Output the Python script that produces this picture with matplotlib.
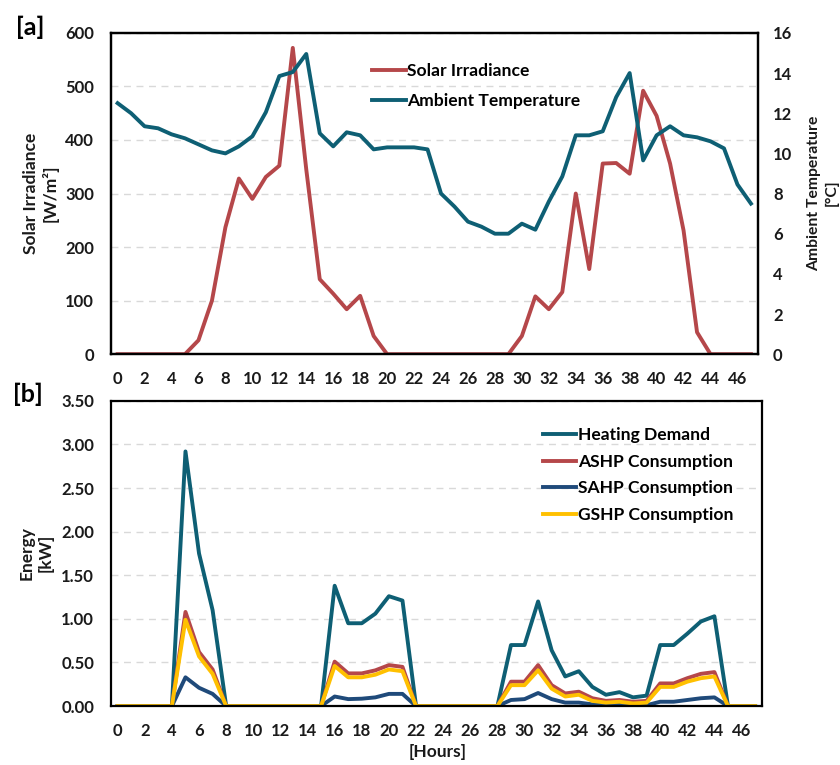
import numpy as np
import matplotlib
matplotlib.use("Agg")
import matplotlib.pyplot as plt

plt.rcParams['font.family'] = ['Lato', 'DejaVu Sans']
plt.rcParams['font.weight'] = 'bold'

hours = list(range(48))
x_ticks = list(range(0, 47, 2))

# panel [a]
solar = [0, 0, 0, 0, 0, 0, 26, 100, 237, 328, 290, 331, 352, 572, 345, 140,
         113, 84, 109, 34, 0, 0, 0, 0, 0, 0, 0, 0, 0, 0, 34, 108,
         84, 116, 300, 159, 356, 357, 337, 492, 445, 356, 231, 41, 0, 0, 0, 0]
temp = [12.5, 12.0, 11.35, 11.25, 10.95, 10.75, 10.45, 10.15, 10.0, 10.35, 10.85, 12.05,
        13.85, 14.05, 14.95, 11.0, 10.35, 11.05, 10.9, 10.2, 10.3, 10.3, 10.3, 10.2,
        8.0, 7.35, 6.6, 6.35, 6.0, 6.0, 6.5, 6.2, 7.6, 8.85, 10.9, 10.9,
        11.1, 12.8, 14.0, 9.65, 10.9, 11.35, 10.9, 10.8, 10.6, 10.25, 8.45, 7.5]

# panel [b]
heating = [0, 0, 0, 0, 0, 2.92, 1.75, 1.10, 0, 0, 0, 0, 0, 0, 0, 0,
           1.38, 0.95, 0.95, 1.06, 1.26, 1.21, 0, 0, 0, 0, 0, 0, 0, 0.70, 0.70, 1.20,
           0.64, 0.34, 0.40, 0.22, 0.13, 0.16, 0.10, 0.12, 0.70, 0.70, 0.83, 0.97, 1.03, 0, 0, 0]
ashp = [0, 0, 0, 0, 0, 1.08, 0.62, 0.42, 0, 0, 0, 0, 0, 0, 0, 0,
        0.51, 0.375, 0.375, 0.41, 0.47, 0.45, 0, 0, 0, 0, 0, 0, 0, 0.28, 0.28, 0.47,
        0.24, 0.145, 0.165, 0.09, 0.06, 0.07, 0.05, 0.06, 0.26, 0.26, 0.32, 0.37, 0.39, 0, 0, 0]
sahp = [0, 0, 0, 0, 0, 0.33, 0.21, 0.14, 0, 0, 0, 0, 0, 0, 0, 0,
        0.11, 0.08, 0.085, 0.10, 0.14, 0.14, 0, 0, 0, 0, 0, 0, 0, 0.07, 0.08, 0.15,
        0.08, 0.04, 0.04, 0.02, 0.01, 0.02, 0.01, 0.01, 0.05, 0.05, 0.07, 0.09, 0.10, 0, 0, 0]
gshp = [0, 0, 0, 0, 0, 0.99, 0.57, 0.37, 0, 0, 0, 0, 0, 0, 0, 0,
        0.46, 0.33, 0.33, 0.36, 0.42, 0.40, 0, 0, 0, 0, 0, 0, 0, 0.24, 0.24, 0.41,
        0.20, 0.11, 0.13, 0.06, 0.04, 0.05, 0.03, 0.04, 0.22, 0.22, 0.28, 0.32, 0.34, 0, 0, 0]

TEAL = '#0E5F74'
RED = '#B5474A'
NAVY = '#1F4A7A'
GOLD = '#FFC000'
LW = 2.8
TXT = '#1a1a1a'
TICK_FS = 12


def style_axis(ax):
    for s in ax.spines.values():
        s.set_linewidth(1.6)
        s.set_color('black')
    ax.tick_params(length=0, pad=12, labelsize=TICK_FS, colors=TXT)
    ax.grid(axis='y', linestyle=(0, (5, 4)), color='#d9d9d9', linewidth=1.0)
    ax.set_axisbelow(True)
    ax.set_xlim(-0.5, 47.5)
    ax.set_xticks(x_ticks)


fig = plt.figure(figsize=(8.4, 7.65), dpi=100)

# ---- [a] solar irradiance + ambient temperature
ax1 = fig.add_axes([0.132, 0.537, 0.770, 0.420])
style_axis(ax1)
ax1.plot(hours, solar, color=RED, lw=LW, label='Solar Irradiance')
ax1.set_ylim(0, 600)
ax1.set_yticks(range(0, 601, 100))

ax1b = ax1.twinx()
ax1b.plot(hours, temp, color=TEAL, lw=LW, label='Ambient Temperature')
ax1b.set_ylim(0, 16)
ax1b.set_yticks(range(0, 17, 2))
ax1b.tick_params(length=0, pad=11, labelsize=TICK_FS, colors=TXT)
for s in ax1b.spines.values():
    s.set_linewidth(1.6)

h1, l1 = ax1.get_legend_handles_labels()
h2, l2 = ax1b.get_legend_handles_labels()
ax1b.legend(h1 + h2, l1 + l2, loc='upper left', bbox_to_anchor=(0.38, 0.955),
            frameon=False, fontsize=12.6, handlelength=1.9, handletextpad=0.1,
            labelspacing=0.82)

# ---- [b] energy
ax2 = fig.add_axes([0.132, 0.077, 0.775, 0.399])
style_axis(ax2)
ax2.plot(hours, heating, color=TEAL, lw=LW, label='Heating Demand')
ax2.plot(hours, ashp, color=RED, lw=LW, label='ASHP Consumption')
ax2.plot(hours, sahp, color=NAVY, lw=LW, label='SAHP Consumption')
ax2.plot(hours, gshp, color=GOLD, lw=LW, label='GSHP Consumption')
ax2.set_ylim(0, 3.5)
ax2.set_yticks(np.arange(0, 3.51, 0.5))
ax2.set_yticklabels([f'{v:.2f}' for v in np.arange(0, 3.51, 0.5)])
ax2.legend(loc='upper left', bbox_to_anchor=(0.639, 0.965), frameon=False,
           fontsize=12.6, handlelength=1.9, handletextpad=0.1, labelspacing=0.6)

# labels
fig.text(30 / 840, 1 - 27 / 765, '[a]', fontsize=18, fontweight='bold', ha='center', va='center')
fig.text(28 / 840, 1 - 394 / 765, '[b]', fontsize=18, fontweight='bold', ha='center', va='center')
fig.text(41 / 840, 1 - 193 / 765, 'Solar Irradiance\n[W/m²]', rotation=90, fontsize=12.5,
         ha='center', va='center', multialignment='center', color=TXT, linespacing=1.2)
fig.text(823 / 840, 1 - 193 / 765, 'Ambient Temperature\n[°C]', rotation=90, fontsize=11.3,
         ha='center', va='center', multialignment='center', color=TXT, linespacing=1.3)
fig.text(36 / 840, 1 - 553 / 765, 'Energy\n[kW]', rotation=90, fontsize=12.5,
         ha='center', va='center', multialignment='center', color=TXT, linespacing=1.2)
fig.text(438 / 840, 1 - 752 / 765, '[Hours]', fontsize=12.5, ha='center', va='center', color=TXT)

fig.savefig('out.png', dpi=100)
